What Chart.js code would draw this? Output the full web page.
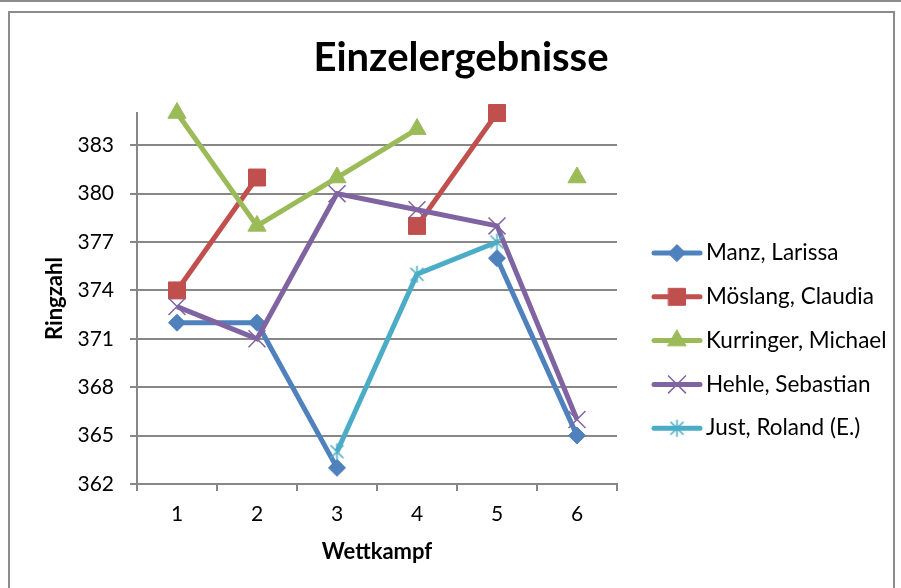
<!DOCTYPE html>
<html>
<head>
<meta charset="utf-8">
<script src="https://cdn.jsdelivr.net/npm/chart.js@4"></script>
<style>
  body { margin: 0; background: #fff; }
</style>
</head>
<body>
<canvas id="chart" width="901" height="588"></canvas>
<script>
// Data
const wettkaempfe = ['1', '2', '3', '4', '5', '6'];
const names = ['Manz, Larissa', 'Möslang, Claudia', 'Kurringer, Michael', 'Hehle, Sebastian', 'Just, Roland (E.)'];
const manz = [372, 372, 363, null, 376, 365];
const moeslang = [374, 381, null, 378, 385, null];
const kurringer = [385, 378, 381, 384, null, 381];
const hehle = [373, 371, 380, 379, 378, 366];
const just = [null, null, 364, 375, 377, null];
const yTicks = [362, 365, 368, 371, 374, 377, 380, 383];

const fontFamily = 'Lato, "Open Sans", sans-serif';
const gridColor = '#878787';

// asterisk marker like the Excel "star"
function asterisk(color) {
    const c = document.createElement('canvas');
    c.width = 19;
    c.height = 19;
    const g = c.getContext('2d');
    g.strokeStyle = color;
    g.lineWidth = 1.6;
    g.beginPath();
    g.moveTo(3, 3); g.lineTo(16, 16);
    g.moveTo(16, 3); g.lineTo(3, 16);
    g.moveTo(9.5, 1); g.lineTo(9.5, 18);
    g.stroke();
    return c;
}

function series(i, values, color, style, radius, bw) {
    return {
        label: names[i],
        data: values,
        borderColor: color,
        backgroundColor: color,
        pointBackgroundColor: color,
        pointBorderColor: color,
        borderWidth: 5,
        pointStyle: style,
        pointRadius: radius,
        pointBorderWidth: bw,
        spanGaps: false,
        tension: 0,
        clip: false,
        order: 4 - i
    };
}

// Frame and title
const framePlugin = {
    id: 'framePlugin',
    beforeDraw(chart) {
        const ctx = chart.ctx;
        ctx.save();
        ctx.fillStyle = '#fff';
        ctx.fillRect(0, 0, chart.width, chart.height);
        ctx.strokeStyle = '#8c8c8c';
        ctx.lineWidth = 2;
        ctx.beginPath();
        ctx.moveTo(0, 1);
        ctx.lineTo(chart.width, 1);
        ctx.stroke();
        ctx.strokeRect(9, 12, 885, 600);
        ctx.fillStyle = '#000';
        ctx.font = 'bold 40px ' + fontFamily;
        ctx.textAlign = 'center';
        ctx.textBaseline = 'alphabetic';
        ctx.fillText('Einzelergebnisse', 461, 71);
        ctx.restore();
    }
};

// Legend with line + marker
const legendPlugin = {
    id: 'legendPlugin',
    afterDraw(chart) {
        const ctx = chart.ctx;
        chart.data.datasets.forEach(function(ds, i) {
            const y = 253 + i * 43.8;
            ctx.save();
            ctx.strokeStyle = ds.borderColor;
            ctx.lineWidth = 5;
            ctx.lineCap = 'round';
            ctx.beginPath();
            ctx.moveTo(654, y);
            ctx.lineTo(700, y);
            ctx.stroke();
            ctx.fillStyle = ds.pointBackgroundColor;
            ctx.strokeStyle = ds.pointBorderColor;
            ctx.lineWidth = ds.pointBorderWidth;
            Chart.helpers.drawPoint(ctx, {
                pointStyle: ds.pointStyle,
                radius: ds.pointRadius,
                borderWidth: ds.pointBorderWidth,
                rotation: 0
            }, 677, y);
            ctx.fillStyle = '#000';
            ctx.font = '22.5px ' + fontFamily;
            ctx.textAlign = 'left';
            ctx.textBaseline = 'middle';
            ctx.fillText(ds.label, 706, y);
            ctx.restore();
        });
    }
};

const ctx = document.getElementById('chart').getContext('2d');
const chart = new Chart(ctx, {
    type: 'line',
    data: {
        labels: wettkaempfe,
        datasets: [
            series(0, manz, '#4F81BD', 'rectRot', 8.5, 1),
            series(1, moeslang, '#C0504D', 'rect', 12, 1),
            series(2, kurringer, '#9BBB59', 'triangle', 10.5, 1),
            series(3, hehle, '#8064A2', 'crossRot', 12, 1.5),
            series(4, just, '#4BACC6', asterisk('#4BACC6'), 9, 1.5)
        ]
    },
    options: {
        responsive: false,
        animation: false,
        devicePixelRatio: 1,
        layout: {
            padding: { top: 113, right: 284, left: 0, bottom: 0 }
        },
        plugins: {
            legend: { display: false },
            title: { display: false },
            tooltip: { enabled: false }
        },
        scales: {
            x: {
                offset: true,
                grid: {
                    offset: true,
                    drawOnChartArea: false,
                    drawTicks: true,
                    tickLength: 7,
                    color: gridColor,
                    lineWidth: 2
                },
                border: { color: gridColor, width: 2 },
                ticks: {
                    color: '#000',
                    font: { family: fontFamily, size: 21 },
                    padding: 11
                },
                title: {
                    display: true,
                    text: 'Wettkampf',
                    color: '#000',
                    font: { family: fontFamily, size: 22, weight: 'bold' },
                    padding: { top: 0, bottom: 23 }
                },
                afterFit: function(scale) {
                    scale.height = 104;
                    scale.paddingLeft = 0;
                    scale.paddingRight = 0;
                }
            },
            y: {
                min: 362,
                max: 385,
                afterBuildTicks: function(scale) {
                    scale.ticks = yTicks.map(v => ({ value: v }));
                },
                grid: {
                    color: gridColor,
                    lineWidth: 2,
                    tickLength: 7
                },
                border: { color: gridColor, width: 2 },
                ticks: {
                    color: '#000',
                    font: { family: fontFamily, size: 21 },
                    padding: 16
                },
                title: {
                    display: true,
                    text: 'Ringzahl',
                    color: '#000',
                    font: { family: fontFamily, size: 22, weight: 'bold' },
                    padding: { top: 42, bottom: 0 }
                },
                afterFit: function(scale) {
                    scale.width = 137;
                    scale.paddingTop = 0;
                    scale.paddingBottom = 0;
                }
            }
        }
    },
    plugins: [framePlugin, legendPlugin]
});
</script>
</body>
</html>
